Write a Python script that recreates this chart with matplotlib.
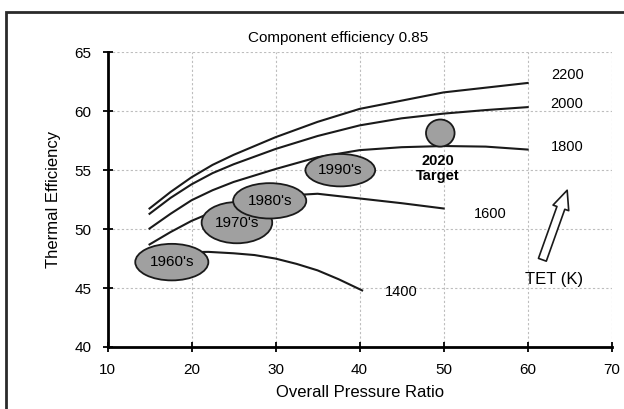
import matplotlib
matplotlib.use("Agg")
import matplotlib.pyplot as plt
from matplotlib.patches import Ellipse, FancyArrowPatch, Rectangle

plt.rcParams['font.family'] = ['Liberation Sans', 'DejaVu Sans']

# Thermal efficiency (%) vs overall pressure ratio for several turbine entry temperatures
opr = [15, 17.5, 20, 22.5, 25, 30, 35, 40, 45, 50, 55, 60]
eff_2200 = [51.75, 53.15, 54.4, 55.45, 56.3, 57.8, 59.1, 60.2, 60.9, 61.6, 62.0, 62.4]
eff_2000 = [51.3, 52.65, 53.8, 54.75, 55.5, 56.8, 57.9, 58.8, 59.4, 59.8, 60.1, 60.35]
eff_1800 = [50.05, 51.3, 52.45, 53.3, 54.0, 55.1, 56.1, 56.7, 56.95, 57.05, 57.0, 56.75]

opr_1600 = [15, 17.5, 20, 22.5, 25, 30, 35, 40, 45, 50]
eff_1600 = [48.7, 49.75, 50.7, 51.45, 52.1, 52.8, 53.0, 52.6, 52.2, 51.75]

opr_1400 = [20, 22, 25, 27.5, 30, 32.5, 35, 37.5, 40.3]
eff_1400 = [48.05, 48.07, 47.95, 47.8, 47.5, 47.05, 46.5, 45.75, 44.8]

tet_labels = ['2200', '2000', '1800', '1600', '1400']
tet_label_x = [64.7, 64.7, 64.7, 55.6, 44.9]
tet_label_y = [63.05, 60.6, 57.0, 51.3, 44.7]

# Technology eras: (name, OPR centre, efficiency centre, width, height)
era_names = ["1960's", "1970's", "1980's", "1990's"]
era_x = [17.65, 25.4, 29.3, 37.7]
era_y = [47.2, 50.55, 52.4, 55.0]
era_w = [8.7, 8.4, 8.7, 8.3]
era_h = [3.1, 3.5, 3.0, 2.75]

target_x, target_y = 49.6, 58.15
target_w, target_h = 3.4, 2.3

x_ticks = [10, 20, 30, 40, 50, 60, 70]
y_ticks = [40, 45, 50, 55, 60, 65]

fig = plt.figure(figsize=(6.24, 4.09), dpi=100)
fig.patches.append(Rectangle((6 / 624, -0.1), 1.2, 1 - 11.7 / 409 + 0.1,
                             transform=fig.transFigure, fill=False,
                             edgecolor='#2a2a2a', linewidth=2.0))

ax = fig.add_axes([0.1723, 0.1516, 0.808, 0.7205])
ax.set_xlim(10, 70)
ax.set_ylim(40, 65)
ax.set_xticks(x_ticks)
ax.set_yticks(y_ticks)
ax.grid(True, color='#bdbdbd', linestyle=(0, (2, 2)), linewidth=0.8)
ax.set_axisbelow(True)
for side in ('top', 'right'):
    ax.spines[side].set_visible(False)
for side in ('left', 'bottom'):
    ax.spines[side].set_linewidth(2.0)
ax.tick_params(direction='inout', length=7, width=1.3, labelsize=11, pad=8)

line_kw = dict(color='#1a1a1a', linewidth=1.5, zorder=3)
ax.plot(opr, eff_2200, **line_kw)
ax.plot(opr, eff_2000, **line_kw)
ax.plot(opr, eff_1800, **line_kw)
ax.plot(opr_1600, eff_1600, **line_kw)
ax.plot(opr_1400, eff_1400, **line_kw)

for name, lx, ly in zip(tet_labels, tet_label_x, tet_label_y):
    ax.text(lx, ly, name, ha='center', va='center', fontsize=10.5)

for name, cx, cy, w, h in zip(era_names, era_x, era_y, era_w, era_h):
    ax.add_patch(Ellipse((cx, cy), w, h, facecolor='#a0a0a0',
                         edgecolor='#1a1a1a', linewidth=1.3, zorder=4))
    ax.text(cx, cy, name, ha='center', va='center', fontsize=11, zorder=5)

ax.add_patch(Ellipse((target_x, target_y), target_w, target_h,
                     facecolor='#a0a0a0', edgecolor='#1a1a1a',
                     linewidth=1.3, zorder=4))
ax.text(49.3, 55.15, '2020\nTarget', ha='center', va='center',
        fontsize=10.5, fontweight='bold', linespacing=1.15)

ax.add_patch(FancyArrowPatch(
    (61.75, 47.4), (64.7, 53.3),
    arrowstyle='simple,head_length=1.35,head_width=1.2,tail_width=0.6',
    mutation_scale=10, shrinkA=0, shrinkB=0,
    facecolor='white', edgecolor='#1a1a1a', linewidth=1.2, zorder=4))
ax.text(63.1, 45.7, 'TET (K)', ha='center', va='center', fontsize=12)

ax.set_xlabel('Overall Pressure Ratio', fontsize=12, labelpad=6)
ax.set_ylabel('Thermal Efficiency', fontsize=12, labelpad=10)
fig.text(338 / 624, 1 - 38 / 409, 'Component efficiency 0.85',
         ha='center', va='center', fontsize=11)

fig.savefig('out.png', dpi=100)
